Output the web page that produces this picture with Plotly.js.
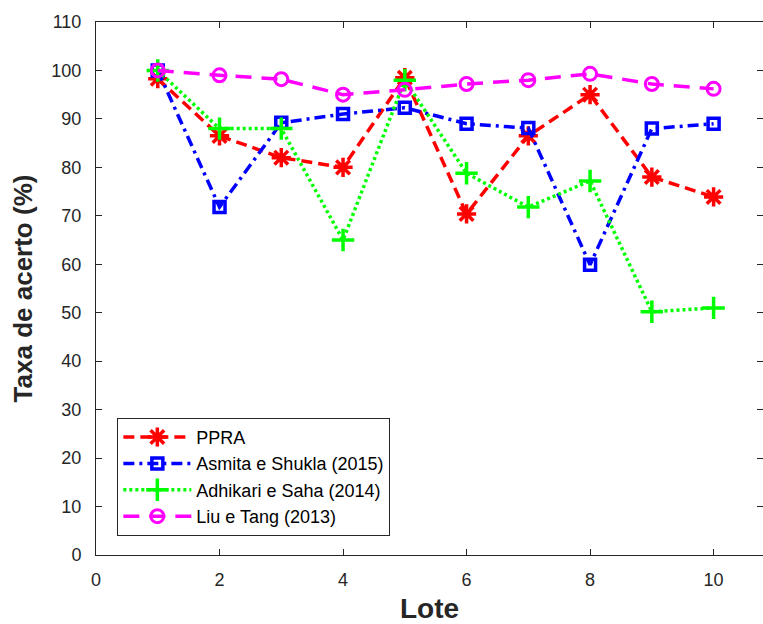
<!DOCTYPE html>
<html>
<head>
<meta charset="utf-8">
<script src="https://cdn.plot.ly/plotly-3.0.1.min.js"></script>
<style>
  html, body { margin: 0; padding: 0; background: #fff; }
  #chart { width: 763px; height: 624px; }
</style>
</head>
<body>
<div id="chart"></div>
<script>
// Lotes (batches) on the x axis
const lotes = [1, 2, 3, 4, 5, 6, 7, 8, 9, 10];

// Accuracy rate (%) per method
const ppra     = [98.3, 86.5, 82, 80, 98.5, 70.4, 86.5, 95, 78, 73.9];
const asmita   = [100, 71.8, 89.2, 91, 92.3, 89, 88.1, 59.9, 88, 89];
const adhikari = [100, 88, 88, 65, 98, 78.8, 71.8, 77.2, 50.2, 51];
const liu      = [100, 99, 98.2, 95, 96, 97.2, 98, 99.3, 97.2, 96.2];

const names = ['PPRA', 'Asmita e Shukla (2015)', 'Adhikari e Saha (2014)', 'Liu e Tang (2013)'];
const yTicks = [0, 10, 20, 30, 40, 50, 60, 70, 80, 90, 100, 110];
const xTicks = [0, 2, 4, 6, 8, 10];

const traces = [
  {
    x: lotes, y: ppra, name: names[0], mode: 'lines+markers',
    line: { color: '#ff0000', width: 3.5, dash: '11px,6px' },
    marker: { symbol: 'asterisk-open', size: 16, color: '#ff0000', line: { color: '#ff0000', width: 3.5 } }
  },
  {
    x: lotes, y: asmita, name: names[1], mode: 'lines+markers',
    line: { color: '#0000ff', width: 3.5, dash: '11px,5px,3px,5px' },
    marker: { symbol: 'square-open', size: 11, color: '#0000ff', line: { color: '#0000ff', width: 3.5 } }
  },
  {
    x: lotes, y: adhikari, name: names[2], mode: 'lines+markers',
    line: { color: '#00ff00', width: 3.5, dash: '3px,3px' },
    marker: { symbol: 'cross-thin-open', size: 16, color: '#00ff00', line: { color: '#00ff00', width: 3.5 } }
  },
  {
    x: lotes, y: liu, name: names[3], mode: 'lines+markers',
    line: { color: '#ff00ff', width: 3.5, dash: '16px,10px' },
    marker: { symbol: 'circle-open', size: 13, color: '#ff00ff', line: { color: '#ff00ff', width: 3 } }
  }
];

const axisColor = '#262626';

const layout = {
  width: 763, height: 624,
  margin: { l: 96, r: 0, t: 22, b: 69 },
  paper_bgcolor: '#ffffff',
  plot_bgcolor: '#ffffff',
  font: { family: 'Liberation Sans, Arial, sans-serif', color: '#262626' },
  showlegend: true,
  legend: {
    x: 0.032, y: 0.036, xanchor: 'left', yanchor: 'bottom',
    bgcolor: '#ffffff', bordercolor: '#262626', borderwidth: 1,
    font: { size: 18, color: '#000000', family: 'Liberation Sans, Arial, sans-serif' },
    itemwidth: 68, tracegroupgap: 0
  },
  xaxis: {
    range: [0, 10.8],
    tickvals: xTicks, ticktext: xTicks.map(String),
    ticks: 'inside', ticklen: 6, tickcolor: axisColor, tickwidth: 1,
    showline: true, linecolor: axisColor, linewidth: 1, mirror: 'ticks',
    showgrid: false, zeroline: false, ticklabelstandoff: 8,
    tickfont: { size: 18, family: 'Liberation Sans Narrow, Liberation Sans, Arial, sans-serif', color: '#262626' },
    title: { text: 'Lote', font: { size: 28, family: 'Liberation Sans, Arial, sans-serif', weight: 'bold', color: '#262626' }, standoff: 14 }
  },
  yaxis: {
    range: [0, 110],
    tickvals: yTicks, ticktext: yTicks.map(String),
    ticks: 'inside', ticklen: 6, tickcolor: axisColor, tickwidth: 1,
    showline: true, linecolor: axisColor, linewidth: 1, mirror: 'ticks',
    showgrid: false, zeroline: false, ticklabelstandoff: 10,
    tickfont: { size: 18, color: '#262626' },
    title: { text: 'Taxa de acerto (%)', font: { size: 26, weight: 'bold', color: '#262626' }, standoff: 11 }
  }
};

Plotly.newPlot('chart', traces, layout, { displayModeBar: false, staticPlot: true });
</script>
</body>
</html>
